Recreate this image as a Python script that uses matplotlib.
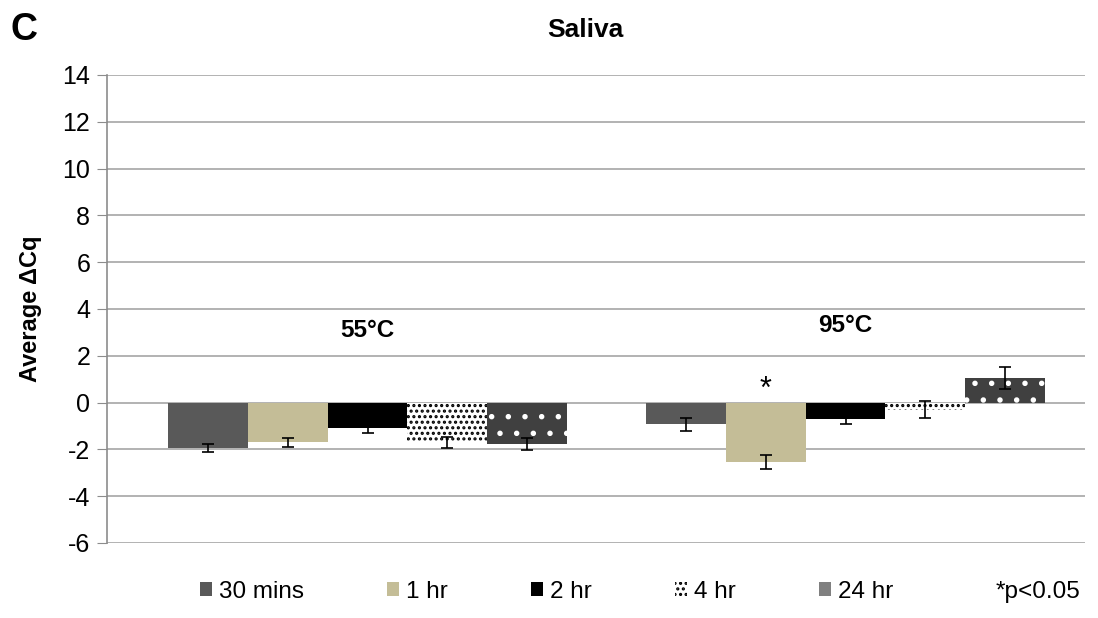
import numpy as np
import matplotlib
matplotlib.use("Agg")
import matplotlib.pyplot as plt
from matplotlib.patches import Patch

plt.rcParams['font.family'] = ['Liberation Sans', 'DejaVu Sans']
plt.rcParams['axes.unicode_minus'] = False
plt.rcParams['hatch.linewidth'] = 1.5

# data
groups = ['55°C', '95°C']
series = ['30 mins', '1 hr', '2 hr', '4 hr', '24 hr']
values = [[-1.95, -1.7, -1.08, -1.7, -1.78],
          [-0.93, -2.55, -0.72, -0.3, 1.05]]
errors = [[0.17, 0.2, 0.22, 0.25, 0.25],
          [0.27, 0.3, 0.18, 0.37, 0.48]]
group_label_y = [2.6, 2.8]
sig_marks = [(1, 1)]  # (group, series) with *

faces = ['#595959', '#c4bd97', '#000000', '#ffffff', '#404040']
hatches = [None, None, None, '...', '.']
hatch_cols = [None, None, None, '#000000', '#ffffff']

fig = plt.figure(figsize=(10.98, 6.18), dpi=100)
ax = fig.add_axes([107/1098, 1 - 543/618, (1085-107)/1098, (543-75)/618])

x = np.arange(len(groups)) * 1.0
w = 0.167
for j in range(len(series)):
    xs = x + (j - 2) * w
    vals = [values[g][j] for g in range(len(groups))]
    errs = [errors[g][j] for g in range(len(groups))]
    ax.bar(xs, vals, width=w, color=faces[j], hatch=hatches[j],
           edgecolor=hatch_cols[j] if hatch_cols[j] else faces[j],
           linewidth=0, zorder=2)
    ax.errorbar(xs, vals, yerr=errs, fmt='none', ecolor='black',
                elinewidth=1.2, capsize=4.5, capthick=1.2, zorder=3)

for g, lab in enumerate(groups):
    ax.text(x[g], group_label_y[g], lab, ha='center', va='bottom',
            fontsize=17.5, fontweight='bold')
for g, j in sig_marks:
    ax.text(x[g] + (j - 2) * w, -0.1, '*', ha='center', va='bottom',
            fontsize=22)

ax.set_ylim(-6, 14)
ax.set_yticks(np.arange(-6, 15, 2))
ax.set_xlim(-0.545, 1.501)
ax.set_xticks([])
ax.yaxis.grid(True, color='#a6a6a6', linewidth=1.2, zorder=0)
ax.set_axisbelow(True)
for s in ['top', 'right', 'bottom']:
    ax.spines[s].set_visible(False)
ax.spines['left'].set_color('#8c8c8c')
ax.spines['left'].set_linewidth(1.2)
ax.tick_params(axis='y', length=7, color='#8c8c8c', labelsize=18, pad=5)
ax.set_ylabel('Average ΔCq', fontsize=17, fontweight='bold')
ax.yaxis.set_label_coords(-0.066, 0.5)

fig.text(585/1098, 1 - 30/618, 'Saliva', ha='center', va='center',
         fontsize=19, fontweight='bold')
fig.text(10/1098, 1 - 30/618, 'C', ha='left', va='center',
         fontsize=27, fontweight='bold')

leg_faces = ['#595959', '#c4bd97', '#000000', '#ffffff', '#808080']
handles = []
for j in range(len(series)):
    handles.append(Patch(facecolor=leg_faces[j], edgecolor='#000000' if j == 3 else leg_faces[j],
                         hatch='...' if j == 3 else None, linewidth=0))
handles.append(Patch(facecolor='none', edgecolor='none'))
labels = series + ['*p<0.05']
fig.legend(handles, labels, loc='center', bbox_to_anchor=(640/1098, 1 - 592/618),
           ncol=6, frameon=False, fontsize=17.5, handlelength=0.5, handleheight=0.5,
           handletextpad=0.3, columnspacing=3.4, borderpad=0, borderaxespad=0)

fig.savefig('out.png', dpi=100)
